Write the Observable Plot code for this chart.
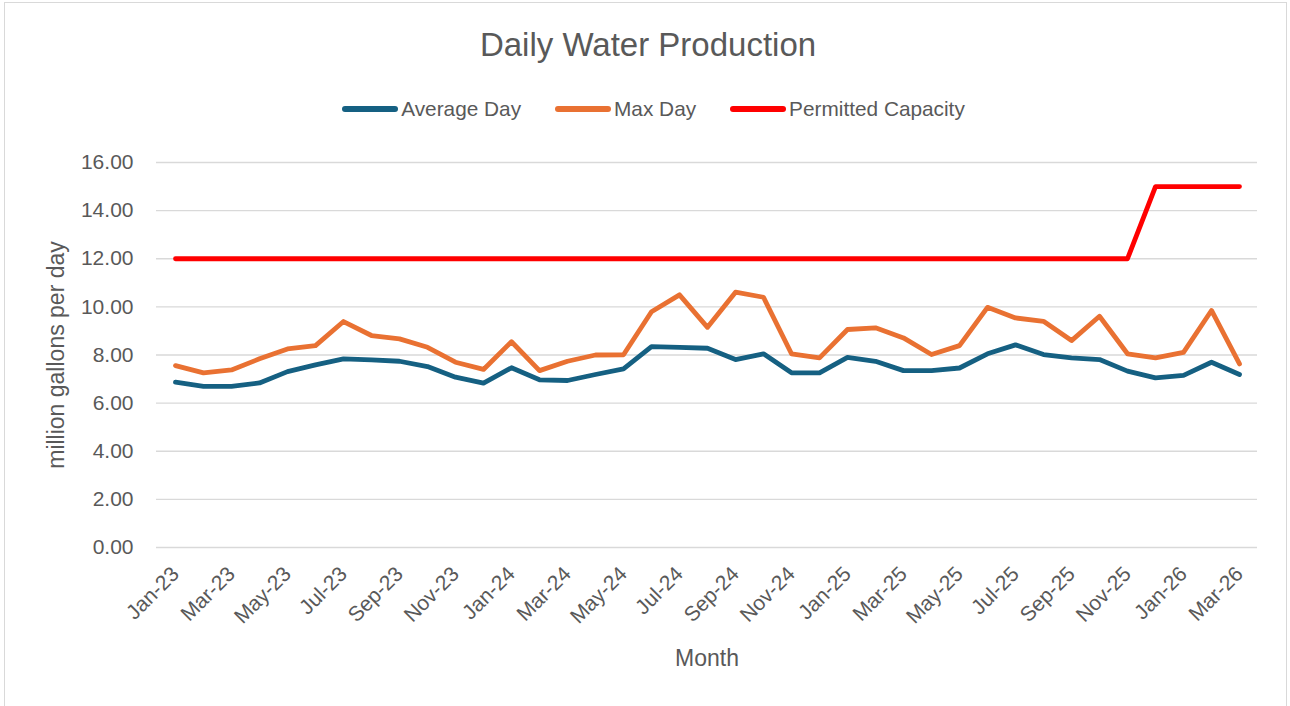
<!DOCTYPE html>
<html>
<head>
<meta charset="utf-8">
<script src="https://cdn.jsdelivr.net/npm/d3@7"></script>
<script src="https://cdn.jsdelivr.net/npm/@observablehq/plot@0.6"></script>
<style>
  html, body { margin: 0; padding: 0; background: #fff; }
  #wrap { position: relative; width: 1290px; height: 706px; overflow: hidden; font-family: "Liberation Sans", Arial, sans-serif; color: #595959; }
  #border { position: absolute; left: 4px; top: 2px; width: 1283px; height: 720px; border: 1.5px solid #d9d9d9; box-sizing: border-box; }
  #title { position: absolute; left: 0; width: 1296px; top: 26px; text-align: center; font-size: 33px; line-height: 38px; }
  #legend { position: absolute; left: 0; width: 1307px; top: 97px; display: flex; justify-content: center; gap: 34px; font-size: 20.8px; line-height: 24px; }
  .item { display: flex; align-items: center; gap: 3px; }
  .sw { width: 56px; height: 6px; border-radius: 3px; }
  #chart { position: absolute; left: 0; top: 130px; }
</style>
</head>
<body>
<div id="wrap">
  <div id="border"></div>
  <div id="title">Daily Water Production</div>
  <div id="legend"></div>
  <div id="chart"></div>
</div>
<script>
const months = ["Jan-23","Feb-23","Mar-23","Apr-23","May-23","Jun-23","Jul-23","Aug-23","Sep-23","Oct-23","Nov-23","Dec-23",
  "Jan-24","Feb-24","Mar-24","Apr-24","May-24","Jun-24","Jul-24","Aug-24","Sep-24","Oct-24","Nov-24","Dec-24",
  "Jan-25","Feb-25","Mar-25","Apr-25","May-25","Jun-25","Jul-25","Aug-25","Sep-25","Oct-25","Nov-25","Dec-25",
  "Jan-26","Feb-26","Mar-26"];
const averageDay = [6.87,6.70,6.70,6.84,7.31,7.59,7.84,7.80,7.74,7.52,7.08,6.83,
  7.47,6.97,6.94,7.19,7.42,8.35,8.32,8.28,7.81,8.05,7.26,7.26,
  7.90,7.74,7.35,7.35,7.46,8.05,8.42,8.02,7.88,7.81,7.33,7.05,
  7.15,7.70,7.19];
const maxDay = [7.56,7.26,7.38,7.84,8.25,8.39,9.39,8.81,8.67,8.32,7.70,7.40,
  8.55,7.35,7.74,8.00,8.01,9.80,10.50,9.15,10.61,10.40,8.05,7.88,
  9.06,9.13,8.71,8.02,8.39,9.98,9.54,9.40,8.60,9.61,8.05,7.88,
  8.11,9.85,7.63];
const permittedCapacity = [12,12,12,12,12,12,12,12,12,12,12,12,
  12,12,12,12,12,12,12,12,12,12,12,12,
  12,12,12,12,12,12,12,12,12,12,12,15,
  15,15,15];
const seriesNames = ["Average Day","Max Day","Permitted Capacity"];
const seriesColors = ["#156082","#E97132","#FF0000"];
const yTicks = [0,2,4,6,8,10,12,14,16];
const xTicks = months.filter((d, i) => i % 2 === 0);

const seriesValues = [averageDay, maxDay, permittedCapacity];
const rows = [];
seriesNames.forEach((name, s) => {
  months.forEach((m, i) => rows.push({month: m, value: seriesValues[s][i], series: name}));
});

// legend
const legend = document.getElementById("legend");
seriesNames.forEach((name, i) => {
  const it = document.createElement("div");
  it.className = "item";
  it.innerHTML = `<span class="sw" style="background:${seriesColors[i]}"></span><span>${name}</span>`;
  legend.appendChild(it);
});

const chart = Plot.plot({
  width: 1290,
  height: 576,
  marginTop: 32,
  marginBottom: 159,
  marginLeft: 156,
  marginRight: 33,
  style: {fontFamily: "'Liberation Sans', Arial, sans-serif", color: "#595959", background: "transparent"},
  x: {type: "point", domain: months, padding: 0.5, align: 0.5},
  y: {domain: [0, 16]},
  color: {domain: seriesNames, range: seriesColors},
  marks: [
    Plot.gridY(yTicks, {stroke: "#d9d9d9", strokeOpacity: 1, strokeWidth: 1.3}),
    Plot.axisY(yTicks, {tickSize: 0, tickPadding: 23, fontSize: 21, tickFormat: d3.format(".2f"), label: null, fill: "#595959"}),
    Plot.axisX(xTicks, {tickSize: 0, tickRotate: -45, tickPadding: 23, fontSize: 21, label: null, fill: "#595959"}),
    Plot.line(rows, {x: "month", y: "value", z: "series", stroke: "series", strokeWidth: 4.8, strokeLinecap: "round", strokeLinejoin: "round"}),
    Plot.text(["million gallons per day"], {frameAnchor: "left", textAnchor: "middle", rotate: -90, dx: -100, fontSize: 23, fill: "#595959"}),
    Plot.text(["Month"], {frameAnchor: "bottom", dy: 118, fontSize: 23, fill: "#595959"})
  ]
});
document.getElementById("chart").appendChild(chart);
</script>
</body>
</html>
